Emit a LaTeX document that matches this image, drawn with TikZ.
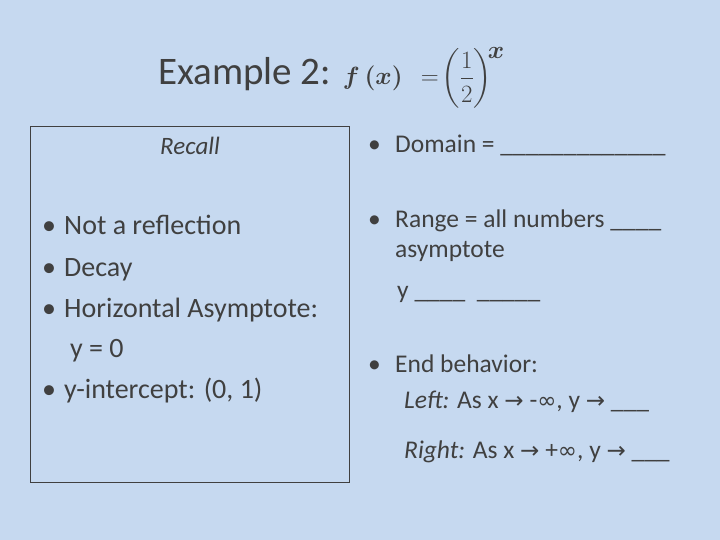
\documentclass[tikz,border=0pt]{standalone}
\usepackage{fontspec}
\usepackage{amsmath}
\setmainfont{Carlito}
\newfontfamily\dv{DejaVu Sans}
\definecolor{bg}{RGB}{198,217,240}
\definecolor{tx}{RGB}{64,64,64}
\newcommand{\arr}{{\dv\fontsize{23}{26}\selectfont →}}
\newcommand{\inff}{{\dv\fontsize{23}{26}\selectfont ∞}}
\begin{document}
\begin{tikzpicture}[x=1pt,y=-1pt,
  lt/.style={anchor=base west,inner sep=0,text=tx,font=\fontsize{28}{32}\selectfont},
  rt/.style={anchor=base west,inner sep=0,text=tx,font=\fontsize{25.5}{30}\selectfont}]
\fill[bg] (0,0) rectangle (720,540);
\useasboundingbox (0,0) rectangle (720,540);
\node[anchor=base west,inner sep=0,text=tx,font=\fontsize{39}{44}\selectfont] (title) at (158,85)
 {Example 2: {\fontsize{50}{56}\selectfont$\boldsymbol{f\,(x)}\ =\!\left(\dfrac{1}{2}\right)^{\!\boldsymbol{x}}$}};
\node[draw=tx,line width=0.8pt,minimum width=319,minimum height=356,anchor=north west,inner sep=0] (box) at (30,126) {};
\node[lt,anchor=base,font=\fontsize{25}{30}\selectfont\itshape] (recall) at (190,155) {Recall};
\node[lt] (b1) at (42,235) {•}; \node[lt] (l1) at (64,235) {Not a reflection};
\node[lt] (b2) at (42,276) {•}; \node[lt] (l2) at (64,276) {Decay};
\node[lt] (b3) at (42,317) {•}; \node[lt] (l3) at (64,317) {Horizontal Asymptote:};
\node[lt] (l4) at (70,357) {y = 0};
\node[lt] (b4) at (42,398) {•}; \node[lt] (l5) at (64,398) {y-intercept: (0, 1)};
\node[rt] (r1b) at (368,153) {•}; \node[rt] (r1) at (395,153) {Domain = \_\_\_\_\_\_\_\_\_\_\_\_\_};
\node[rt] (r2b) at (368,228) {•}; \node[rt] (r2) at (395,228) {Range = all numbers \_\_\_\_};
\node[rt] (r3) at (395,258) {asymptote};
\node[rt] (r4) at (397,298) {y \_\_\_\_\ \ \_\_\_\_\_};
\node[rt] (r5b) at (368,372) {•}; \node[rt] (r5) at (395,372) {End behavior:};
\node[rt] (r6) at (404,408) {\textit{Left:} As x \arr\ -\inff, y \arr\ \_\_\_};
\node[rt] (r7) at (404,458) {\textit{Right:} As x \arr\ +\inff, y \arr\ \_\_\_};
\end{tikzpicture}
\end{document}
